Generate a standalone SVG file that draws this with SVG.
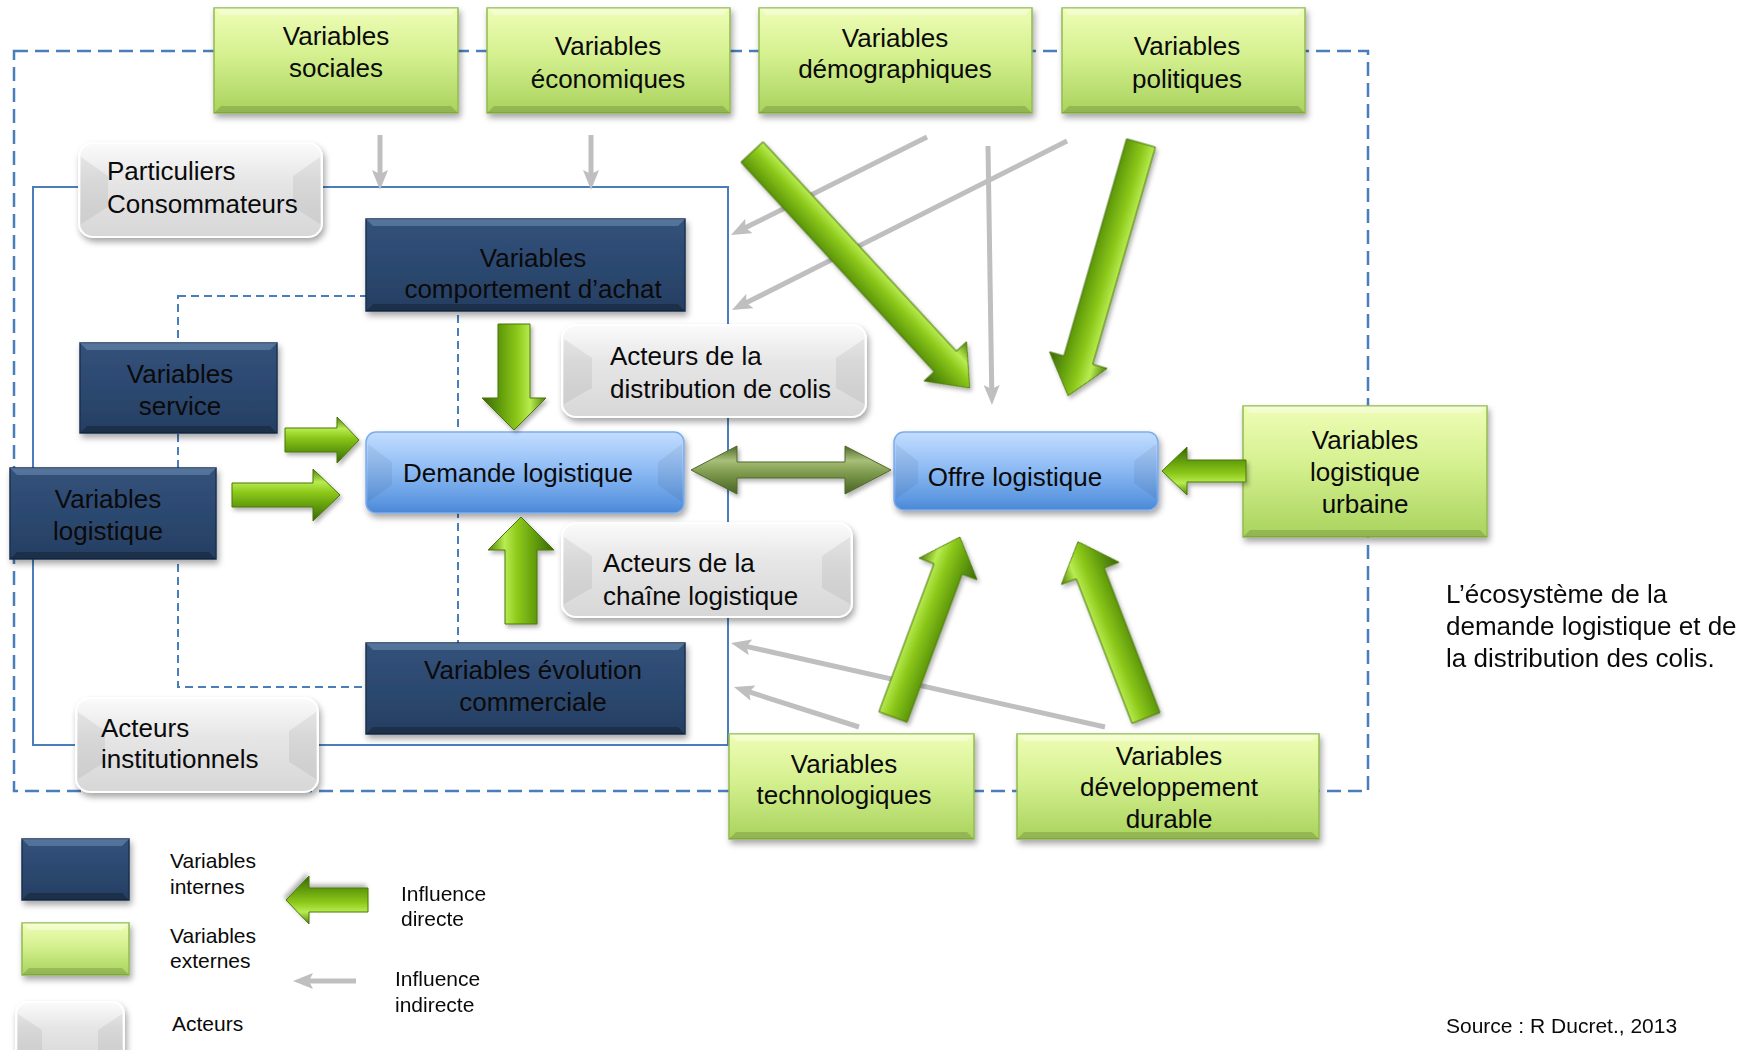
<svg xmlns="http://www.w3.org/2000/svg" width="1760" height="1050" viewBox="0 0 1760 1050">
<defs>
<style>
text{font-family:"Liberation Sans",Arial,sans-serif;fill:#0a0a0a}
.t26{font-size:26px}
.t21{font-size:21px}
.mid{text-anchor:middle}
.gbox{fill:url(#gGreen);stroke:#93bb4f;stroke-width:1.5}
.nbox{fill:url(#gNavy);stroke:#1c3150;stroke-width:1.5}
.abox{fill:url(#gGray);stroke:#ffffff;stroke-width:2}
.bbox{fill:url(#gBlue);stroke:#7eaceb;stroke-width:1.5}
.hl{fill:#ffffff;opacity:.35}
.sd{fill:#000000;opacity:.14}
.nhl{fill:#6f8fb8;opacity:.55}
.nsd{fill:#000000;opacity:.25}
.wedge{fill:#000000;opacity:.06}
.frame-out{fill:none;stroke:#4a7ebb;stroke-width:2.5;stroke-dasharray:14 7}
.frame-in{fill:none;stroke:#4a7ebb;stroke-width:2}
.frame-dash{fill:none;stroke:#4a7ebb;stroke-width:2;stroke-dasharray:8 5}
.ind{stroke:#bfbfbf;stroke-width:5;fill:none;marker-end:url(#ga)}
.dir{fill:url(#gArrow);stroke:#4a760a;stroke-width:1}
</style>
<linearGradient id="gGreen" x1="0" y1="0" x2="0" y2="1">
<stop offset="0" stop-color="#effdb6"/>
<stop offset="0.45" stop-color="#d4f08f"/>
<stop offset="1" stop-color="#a9d35d"/>
</linearGradient>
<linearGradient id="gNavy" x1="0" y1="0" x2="0" y2="1">
<stop offset="0" stop-color="#33527a"/>
<stop offset="0.5" stop-color="#2c4870"/>
<stop offset="1" stop-color="#263f62"/>
</linearGradient>
<linearGradient id="gGray" x1="0" y1="0" x2="0" y2="1">
<stop offset="0" stop-color="#fbfbfb"/>
<stop offset="0.4" stop-color="#e6e6e6"/>
<stop offset="1" stop-color="#d7d7d7"/>
</linearGradient>
<linearGradient id="gBlue" x1="0" y1="0" x2="0" y2="1">
<stop offset="0" stop-color="#c3ddff"/>
<stop offset="0.4" stop-color="#95c0f6"/>
<stop offset="0.85" stop-color="#5f99e2"/>
<stop offset="1" stop-color="#4b87d6"/>
</linearGradient>
<linearGradient id="gArrow" x1="0" y1="0" x2="0" y2="1">
<stop offset="0" stop-color="#4f8008"/>
<stop offset="0.25" stop-color="#b8ec50"/>
<stop offset="0.45" stop-color="#8cc81a"/>
<stop offset="0.75" stop-color="#5c960a"/>
<stop offset="1" stop-color="#3c6604"/>
</linearGradient>
<linearGradient id="gOlive" x1="0" y1="0" x2="0" y2="1">
<stop offset="0" stop-color="#4e6a29"/>
<stop offset="0.3" stop-color="#a8bf79"/>
<stop offset="0.55" stop-color="#7f9c4f"/>
<stop offset="1" stop-color="#4a6325"/>
</linearGradient>
<filter id="sh" x="-10%" y="-10%" width="125%" height="135%">
<feDropShadow dx="2" dy="4" stdDeviation="3" flood-color="#000" flood-opacity="0.35"/>
</filter>
<filter id="ash" x="-20%" y="-20%" width="140%" height="140%">
<feDropShadow dx="2" dy="3" stdDeviation="2" flood-color="#000" flood-opacity="0.3"/>
</filter>
<marker id="ga" markerUnits="userSpaceOnUse" viewBox="0 0 20 16" markerWidth="20" markerHeight="16" refX="8" refY="8" orient="auto">
<path d="M0,0 L20,8 L0,16 L4,8 z" fill="#bfbfbf"/>
</marker>
</defs>

<rect width="1760" height="1050" fill="#ffffff"/>

<g id="frames">
<rect class="frame-out" x="14" y="51" width="1354" height="740"/>
<rect class="frame-in" x="33" y="187" width="695" height="558"/>
<rect class="frame-dash" x="178" y="296" width="280" height="391"/>
</g>

<g id="n-sociales">
<rect class="gbox" x="214" y="8" width="244" height="105" filter="url(#sh)"/>
<path class="hl" d="M214,8 h244 l-7,7 h-230 z"/>
<path class="sd" d="M214,113 h244 l-7,-7 h-230 z"/>
<text class="t26 mid" x="336" y="45">Variables</text>
<text class="t26 mid" x="336" y="77">sociales</text>
</g>
<g id="n-economiques">
<rect class="gbox" x="487" y="8" width="243" height="105" filter="url(#sh)"/>
<path class="hl" d="M487,8 h243 l-7,7 h-229 z"/>
<path class="sd" d="M487,113 h243 l-7,-7 h-229 z"/>
<text class="t26 mid" x="608" y="55">Variables</text>
<text class="t26 mid" x="608" y="88">économiques</text>
</g>
<g id="n-demographiques">
<rect class="gbox" x="759" y="8" width="273" height="105" filter="url(#sh)"/>
<path class="hl" d="M759,8 h273 l-7,7 h-259 z"/>
<path class="sd" d="M759,113 h273 l-7,-7 h-259 z"/>
<text class="t26 mid" x="895" y="47">Variables</text>
<text class="t26 mid" x="895" y="78">démographiques</text>
</g>
<g id="n-politiques">
<rect class="gbox" x="1062" y="8" width="243" height="105" filter="url(#sh)"/>
<path class="hl" d="M1062,8 h243 l-7,7 h-229 z"/>
<path class="sd" d="M1062,113 h243 l-7,-7 h-229 z"/>
<text class="t26 mid" x="1187" y="55">Variables</text>
<text class="t26 mid" x="1187" y="88">politiques</text>
</g>

<g id="n-particuliers">
<rect class="abox" x="79" y="143" width="243" height="94" rx="14" filter="url(#sh)"/>
<path class="wedge" d="M81,157 L108,176 V207 L81,224 z"/>
<path class="wedge" d="M320,157 L293,176 V207 L320,224 z"/>
<text class="t26" x="107" y="180">Particuliers</text>
<text class="t26" x="107" y="213">Consommateurs</text>
</g>

<g id="n-comportement">
<rect class="nbox" x="366" y="219" width="319" height="92" filter="url(#sh)"/>
<path class="nhl" d="M366,219 h319 l-7,7 h-305 z"/>
<path class="nsd" d="M366,311 h319 l-7,-7 h-305 z"/>
<text class="t26 mid" x="533" y="267">Variables</text>
<text class="t26 mid" x="533" y="298">comportement d’achat</text>
</g>

<g id="n-service">
<rect class="nbox" x="80" y="343" width="197" height="90" filter="url(#sh)"/>
<path class="nhl" d="M80,343 h197 l-7,7 h-183 z"/>
<path class="nsd" d="M80,433 h197 l-7,-7 h-183 z"/>
<text class="t26 mid" x="180" y="383">Variables</text>
<text class="t26 mid" x="180" y="415">service</text>
</g>

<g id="n-logistique">
<rect class="nbox" x="10" y="468" width="206" height="91" filter="url(#sh)"/>
<path class="nhl" d="M10,468 h206 l-7,7 h-192 z"/>
<path class="nsd" d="M10,559 h206 l-7,-7 h-192 z"/>
<text class="t26 mid" x="108" y="508">Variables</text>
<text class="t26 mid" x="108" y="540">logistique</text>
</g>

<g id="n-acteurs-distribution">
<rect class="abox" x="562" y="325" width="304" height="92" rx="14" filter="url(#sh)"/>
<path class="wedge" d="M564,339 L592,358 V388 L564,404 z"/>
<path class="wedge" d="M864,339 L836,358 V388 L864,404 z"/>
<text class="t26" x="610" y="365">Acteurs de la</text>
<text class="t26" x="610" y="398">distribution de colis</text>
</g>

<g id="n-demande">
<rect class="bbox" x="366" y="432" width="318" height="81" rx="10" filter="url(#sh)"/>
<path class="wedge" d="M368,444 L392,462 V485 L368,502 z"/>
<path class="wedge" d="M682,444 L658,462 V485 L682,502 z"/>
<text class="t26 mid" x="518" y="482">Demande logistique</text>
</g>

<g id="n-acteurs-chaine">
<rect class="abox" x="562" y="523" width="290" height="94" rx="14" filter="url(#sh)"/>
<path class="wedge" d="M564,537 L592,556 V588 L564,604 z"/>
<path class="wedge" d="M850,537 L822,556 V588 L850,604 z"/>
<text class="t26" x="603" y="572">Acteurs de la</text>
<text class="t26" x="603" y="605">chaîne logistique</text>
</g>

<g id="n-evolution">
<rect class="nbox" x="366" y="643" width="319" height="91" filter="url(#sh)"/>
<path class="nhl" d="M366,643 h319 l-7,7 h-305 z"/>
<path class="nsd" d="M366,734 h319 l-7,-7 h-305 z"/>
<text class="t26 mid" x="533" y="679">Variables évolution</text>
<text class="t26 mid" x="533" y="711">commerciale</text>
</g>

<g id="n-institutionnels">
<rect class="abox" x="76" y="698" width="242" height="94" rx="14" filter="url(#sh)"/>
<path class="wedge" d="M78,712 L105,731 V762 L78,779 z"/>
<path class="wedge" d="M316,712 L289,731 V762 L316,779 z"/>
<text class="t26" x="101" y="737">Acteurs</text>
<text class="t26" x="101" y="768">institutionnels</text>
</g>

<g id="n-offre">
<rect class="bbox" x="894" y="432" width="264" height="78" rx="10" filter="url(#sh)"/>
<path class="wedge" d="M896,444 L918,461 V483 L896,499 z"/>
<path class="wedge" d="M1156,444 L1134,461 V483 L1156,499 z"/>
<text class="t26 mid" x="1015" y="486">Offre logistique</text>
</g>

<g id="n-urbaine">
<rect class="gbox" x="1243" y="406" width="244" height="131" filter="url(#sh)"/>
<path class="hl" d="M1243,406 h244 l-7,7 h-230 z"/>
<path class="sd" d="M1243,537 h244 l-7,-7 h-230 z"/>
<text class="t26 mid" x="1365" y="449">Variables</text>
<text class="t26 mid" x="1365" y="481">logistique</text>
<text class="t26 mid" x="1365" y="513">urbaine</text>
</g>

<g id="n-technologiques">
<rect class="gbox" x="729" y="734" width="245" height="105" filter="url(#sh)"/>
<path class="hl" d="M729,734 h245 l-7,7 h-231 z"/>
<path class="sd" d="M729,839 h245 l-7,-7 h-231 z"/>
<text class="t26 mid" x="844" y="773">Variables</text>
<text class="t26 mid" x="844" y="804">technologiques</text>
</g>

<g id="n-durable">
<rect class="gbox" x="1017" y="734" width="302" height="105" filter="url(#sh)"/>
<path class="hl" d="M1017,734 h302 l-7,7 h-288 z"/>
<path class="sd" d="M1017,839 h302 l-7,-7 h-288 z"/>
<text class="t26 mid" x="1169" y="765">Variables</text>
<text class="t26 mid" x="1169" y="796">développement</text>
<text class="t26 mid" x="1169" y="828">durable</text>
</g>

<g id="connectors">
<g id="indirect">
<line class="ind" x1="380" y1="135" x2="380" y2="178"/>
<line class="ind" x1="591" y1="135" x2="591" y2="178"/>
<line class="ind" x1="927" y1="137" x2="741.7" y2="229.6"/>
<line class="ind" x1="1067" y1="141" x2="742.7" y2="304.6"/>
<line class="ind" x1="988" y1="146" x2="991.8" y2="393"/>
<line class="ind" x1="1105" y1="727" x2="742.7" y2="645.6"/>
<line class="ind" x1="859" y1="727" x2="745.4" y2="690.7"/>
</g>
<g id="direct" filter="url(#ash)">
<polygon class="dir" transform="translate(514,324) rotate(90)" points="0,-16 74,-16 74,-32 106,0 74,32 74,16 0,16"/>
<polygon class="dir" transform="translate(521,624) rotate(-90)" points="0,-16 74,-16 74,-33 107,0 74,33 74,16 0,16"/>
<polygon class="dir" transform="translate(285,440)" points="0,-12 52,-12 52,-23 74,0 52,23 52,12 0,12"/>
<polygon class="dir" transform="translate(232,495)" points="0,-12 81,-12 81,-26 108,0 81,26 81,12 0,12"/>
<polygon class="dir" transform="translate(1246,471) rotate(180)" points="0,-11 59,-11 59,-24 84,0 59,24 59,11 0,11"/>
<polygon fill="url(#gOlive)" stroke="#51692c" stroke-width="1" transform="translate(691,470)" points="0,0 46,-24 46,-8 154,-8 154,-24 200,0 154,24 154,8 46,8 46,24"/>
<polygon class="dir" transform="translate(752,152) rotate(47.3)" points="0,-15 285,-15 285,-29 321,0 285,29 285,15 0,15"/>
<polygon class="dir" transform="translate(1141,143) rotate(106.1)" points="0,-15 226,-15 226,-30 263,0 226,30 226,15 0,15"/>
<polygon class="dir" transform="translate(893,717) rotate(-69.6)" points="0,-15 158,-15 158,-31 192,0 158,31 158,15 0,15"/>
<polygon class="dir" transform="translate(1146,718) rotate(-111.1)" points="0,-15 155,-15 155,-31 189,0 155,31 155,15 0,15"/>
</g>
</g>

<g id="legend">
<g id="lg-internes">
<rect class="nbox" x="22" y="839" width="107" height="61" filter="url(#sh)"/>
<path class="nhl" d="M22,839 h107 l-7,7 h-93 z"/>
<path class="nsd" d="M22,900 h107 l-7,-7 h-93 z"/>
<text class="t21" x="170" y="868">Variables</text>
<text class="t21" x="170" y="894">internes</text>
</g>
<g id="lg-externes">
<rect class="gbox" x="22" y="923" width="107" height="52" filter="url(#sh)"/>
<path class="hl" d="M22,923 h107 l-7,7 h-93 z"/>
<path class="sd" d="M22,975 h107 l-7,-7 h-93 z"/>
<text class="t21" x="170" y="943">Variables</text>
<text class="t21" x="170" y="968">externes</text>
</g>
<g id="lg-acteurs">
<rect class="abox" x="16" y="1002" width="108" height="62" rx="12" filter="url(#sh)"/>
<path class="wedge" d="M18,1014 L42,1030 V1050 L18,1050 z"/>
<path class="wedge" d="M122,1014 L98,1030 V1050 L122,1050 z"/>
<text class="t21" x="172" y="1031">Acteurs</text>
</g>
<g id="lg-directe">
<polygon class="dir" filter="url(#ash)" transform="translate(368,900) rotate(180)" points="0,-12 59,-12 59,-24 82,0 59,24 59,12 0,12"/>
<text class="t21" x="401" y="901">Influence</text>
<text class="t21" x="401" y="926">directe</text>
</g>
<g id="lg-indirecte">
<line class="ind" x1="356" y1="981" x2="305" y2="981"/>
<text class="t21" x="395" y="986">Influence</text>
<text class="t21" x="395" y="1012">indirecte</text>
</g>
</g>

<g id="caption">
<text class="t26" x="1446" y="603">L’écosystème de la</text>
<text class="t26" x="1446" y="635">demande logistique et de</text>
<text class="t26" x="1446" y="667">la distribution des colis.</text>
<text class="t21" x="1446" y="1033">Source : R Ducret., 2013</text>
</g>
</svg>
